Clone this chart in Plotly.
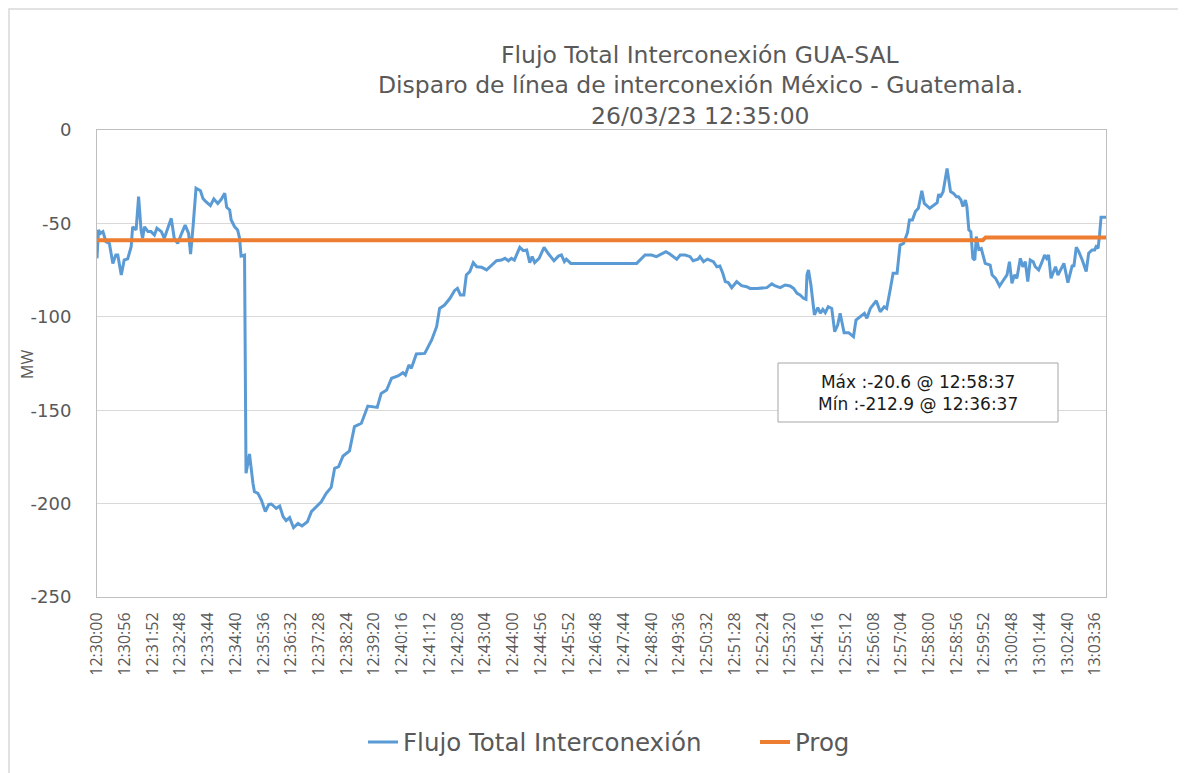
import pandas as pd
import plotly.graph_objects as go

# ---- data (seconds after 12:30:00, MW) ----
t_sec = [0, 3, 7, 12, 18, 25, 32, 38, 42, 49, 55, 62, 69, 72, 79, 84, 89, 92, 96, 103,
         109, 116, 121, 130, 136, 144, 150, 156, 163, 171, 178, 185, 189, 194, 200, 209, 214, 220, 229, 236,
         244, 251, 258, 262, 268, 271, 278, 284, 288, 291, 298, 301, 308, 315, 318, 325, 332, 340, 347, 352,
         362, 369, 376, 382, 389, 397, 406, 414, 425, 433, 443, 453, 463, 473, 480, 488, 497, 510, 520, 534,
         547, 566, 574, 585, 595, 608, 618, 623, 630, 635, 645, 662, 676, 686, 692, 702, 713, 722, 728, 734,
         741, 746, 753, 760, 767, 777, 787, 797, 807, 817, 824, 831, 837, 843, 854, 861, 868, 874, 879, 884,
         893, 903, 911, 923, 932, 938, 944, 948, 957, 1090, 1097, 1107, 1120, 1130, 1149, 1157, 1171, 1178, 1188, 1198,
         1204, 1214, 1218, 1225, 1233, 1242, 1245, 1252, 1258, 1264, 1269, 1275, 1282, 1292, 1302, 1312, 1319, 1333, 1346, 1353,
         1363, 1370, 1380, 1390, 1400, 1407, 1414, 1420, 1427, 1432, 1434, 1437, 1442, 1449, 1456, 1461, 1466, 1471, 1477, 1484,
         1490, 1496, 1501, 1509, 1518, 1528, 1533, 1541, 1550, 1555, 1562, 1574, 1582, 1590, 1595, 1602, 1608, 1616, 1622, 1629,
         1637, 1641, 1647, 1653, 1659, 1666, 1671, 1682, 1690, 1697, 1700, 1703, 1709, 1717, 1724, 1730, 1736, 1740, 1745, 1749,
         1754, 1757, 1761, 1765, 1769, 1773, 1776, 1781, 1786, 1790, 1794, 1804, 1808, 1815, 1823, 1831, 1838, 1843, 1848, 1853,
         1858, 1865, 1870, 1875, 1880, 1885, 1891, 1895, 1902, 1909, 1914, 1918, 1922, 1927, 1936, 1941, 1946, 1953, 1961, 1970,
         1973, 1978, 1983, 1990, 1998, 2003, 2010, 2015, 2018, 2022, 2025, 2028, 2038]
flujo = [-68.7, -53.5, -55.3, -54.4, -59.8, -60.7, -71.4, -66.9, -66.9, -77.6, -69.6, -69.0, -62.5, -51.8, -53.5, -35.7, -53.5, -58.0, -51.8, -54.4,
         -54.4, -56.2, -52.6, -54.4, -58.0, -51.8, -47.3, -58.0, -60.7, -55.3, -50.9, -55.3, -66.4, -51.8, -31.2, -32.5, -36.6, -38.4, -40.5, -36.9,
         -39.3, -37.1, -33.9, -41.4, -42.8, -48.2, -51.8, -53.5, -58.0, -67.5, -66.9, -183.8, -173.4, -189.1, -193.6, -194.5, -198.1, -204.3, -200.4, -200.2,
         -202.5, -201.3, -207.0, -209.1, -207.5, -212.9, -210.6, -212.0, -209.7, -204.3, -201.6, -199.0, -194.5, -191.3, -181.1, -180.2, -174.5, -171.8, -158.8, -157.0,
         -147.8, -148.5, -141.0, -139.2, -132.9, -131.7, -129.9, -131.2, -125.8, -127.6, -119.9, -119.6, -112.4, -105.3, -95.5, -93.7, -90.1, -86.0, -84.8, -88.3,
         -88.3, -77.6, -75.8, -71.0, -73.2, -73.5, -74.9, -72.3, -70.0, -69.6, -68.7, -70.0, -68.7, -69.6, -62.8, -64.6, -64.2, -71.0, -67.8, -71.0,
         -68.7, -62.8, -66.0, -70.0, -67.5, -66.9, -70.5, -69.2, -71.4, -71.4, -69.6, -66.9, -66.9, -67.8, -65.1, -66.4, -69.2, -66.9, -66.9, -67.8,
         -70.0, -69.2, -67.8, -70.5, -69.1, -70.0, -70.5, -73.2, -72.8, -76.7, -81.2, -81.7, -84.4, -81.2, -83.3, -83.9, -84.8, -84.8, -84.8, -84.4,
         -82.4, -83.5, -84.4, -83.0, -83.5, -84.8, -87.4, -88.3, -90.1, -90.6, -77.6, -74.9, -83.0, -99.0, -95.1, -98.1, -96.0, -97.8, -94.6, -95.5,
         -108.0, -104.4, -98.1, -108.5, -108.5, -110.6, -101.7, -99.9, -98.1, -100.8, -95.5, -91.4, -97.3, -94.6, -95.5, -85.7, -76.7, -76.7, -61.6, -60.7,
         -55.0, -48.2, -48.2, -43.7, -41.9, -32.5, -39.3, -41.9, -40.1, -38.9, -34.3, -36.0, -33.0, -20.6, -33.0, -33.9, -35.7, -35.7, -37.5, -41.0,
         -37.5, -41.0, -53.5, -54.4, -68.7, -69.6, -57.1, -63.9, -63.4, -66.9, -71.4, -72.3, -77.6, -79.4, -83.5, -80.3, -77.6, -70.5, -82.1, -77.6,
         -79.4, -68.7, -73.2, -70.5, -81.2, -69.6, -70.5, -73.2, -74.9, -70.5, -66.9, -68.7, -66.9, -79.4, -73.2, -77.6, -74.9, -71.4, -81.7, -72.3,
         -73.2, -62.8, -65.1, -69.6, -75.8, -66.0, -64.2, -64.2, -62.5, -63.4, -56.2, -46.7, -46.7]

prog_t = [0, 1789, 1795, 2038]
prog = [-59.0, -59.0, -57.5, -57.5]

y_tickvals = [0, -50, -100, -150, -200, -250]
y_ticktext = ["0", "-50", "-100", "-150", "-200", "-250"]

title_lines = ["Flujo Total Interconexión GUA-SAL",
               "Disparo de línea de interconexión México - Guatemala.",
               "26/03/23 12:35:00"]
stats_text = "Máx :-20.6 @ 12:58:37<br>Mín :-212.9 @ 12:36:37"

base = pd.Timestamp("2023-03-26 12:30:00")
x_flujo = base + pd.to_timedelta(t_sec, unit="s")
x_prog = base + pd.to_timedelta(prog_t, unit="s")

HFONT = "DejaVu Sans"   # horizontal text
VFONT = "Open Sans"     # rotated text
GRAY = "#595959"

fig = go.Figure()
fig.add_trace(go.Scatter(x=x_flujo, y=flujo, mode="lines", name="Flujo Total Interconexión",
                         line=dict(color="#5B9BD5", width=3), legend="legend"))
fig.add_trace(go.Scatter(x=x_prog, y=prog, mode="lines", name="Prog",
                         line=dict(color="#ED7D31", width=4), legend="legend2"))

# page has an 8px body margin: figure pixel = page pixel - 8
OFF = 8
W, H = 1178, 765
L, R, T, B = 89, 80, 122, 176
pw, ph = W - L - R, H - T - B
PLOT_LEFT_PAGE = L + OFF
PLOT_BOTTOM_PAGE = H - B + OFF


def px2x(px):
    return (px - PLOT_LEFT_PAGE) / pw


def py2y(py):
    return (PLOT_BOTTOM_PAGE - py) / ph


legend_font = dict(size=24.5, color=GRAY, family=HFONT)
fig.update_layout(
    width=W, height=H,
    margin=dict(l=L, r=R, t=T, b=B, autoexpand=False),
    paper_bgcolor="white", plot_bgcolor="white",
    font=dict(family=HFONT, color=GRAY),
    showlegend=True,
    legend=dict(orientation="h", x=px2x(363), xanchor="left", y=py2y(742), yanchor="middle",
                font=legend_font, bgcolor="rgba(0,0,0,0)"),
    legend2=dict(orientation="h", x=px2x(755), xanchor="left", y=py2y(742), yanchor="middle",
                 font=legend_font, bgcolor="rgba(0,0,0,0)"),
)

fig.update_xaxes(
    type="date",
    range=[base, base + pd.Timedelta(seconds=2038)],
    tick0=base, dtick=56000, tickformat="%H:%M:%S",
    tickangle=-90, tickfont=dict(size=16, color=GRAY, family=VFONT),
    showgrid=False, showline=True, linecolor="#BFBFBF", linewidth=1, mirror=True,
    ticks="", zeroline=False, ticklabelstandoff=8,
)
fig.update_yaxes(
    range=[-250, 0], tickvals=y_tickvals, ticktext=y_ticktext,
    tickfont=dict(size=18, color=GRAY, family=HFONT),
    showgrid=True, gridcolor="#D9D9D9", gridwidth=1,
    showline=True, linecolor="#BFBFBF", linewidth=1, mirror=True,
    ticks="", zeroline=False, ticklabelstandoff=21,
)

# outer chart border (top/left edges visible; right/bottom outside the picture)
fig.add_shape(type="rect", xref="paper", yref="paper",
              x0=px2x(9), x1=px2x(1300), y0=py2y(900), y1=py2y(9),
              line=dict(color="#D9D9D9", width=1.5), fillcolor="rgba(0,0,0,0)", layer="below")

# title lines
for line, cy in zip(title_lines, [55, 85, 115.5]):
    fig.add_annotation(text=line, xref="paper", yref="paper", x=px2x(700), y=py2y(cy),
                       xanchor="center", yanchor="middle", showarrow=False,
                       font=dict(size=23.5, color=GRAY, family=HFONT))

# y axis title
fig.add_annotation(text="MW", xref="paper", yref="paper", x=px2x(27), y=py2y(365),
                   textangle=-90, showarrow=False, xanchor="center", yanchor="middle",
                   font=dict(size=16, color=GRAY, family=VFONT))

# stats box
fig.add_shape(type="rect", xref="paper", yref="paper",
              x0=px2x(778), x1=px2x(1058), y0=py2y(422), y1=py2y(363),
              line=dict(color="#A6A6A6", width=1), fillcolor="white")
fig.add_annotation(text=stats_text, xref="paper", yref="paper", x=px2x(918), y=py2y(392.5),
                   xanchor="center", yanchor="middle", showarrow=False, align="center",
                   font=dict(size=17, color="#1a1a1a", family=HFONT))

fig.write_html("out.html")
